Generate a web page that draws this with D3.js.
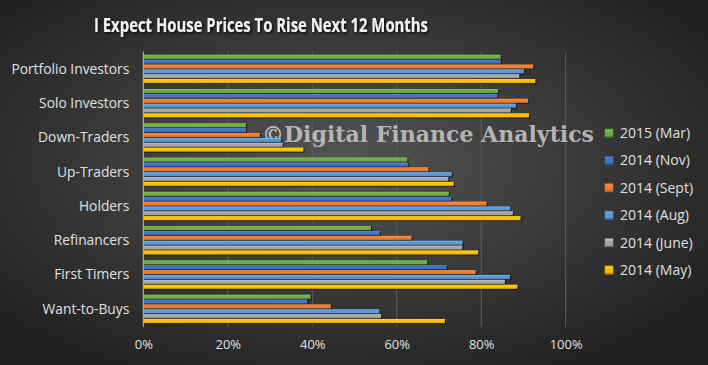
<!DOCTYPE html>
<html>
<head>
<meta charset="utf-8">
<script src="https://cdn.jsdelivr.net/npm/d3@7"></script>
<style>
  html, body { margin: 0; padding: 0; background: #2b2b2b; }
  svg { display: block; }
</style>
</head>
<body>
<div id="chart"></div>
<script>
  // Categories, top to bottom
  let categories = [
    'Portfolio Investors', 'Solo Investors', 'Down-Traders', 'Up-Traders',
    'Holders', 'Refinancers', 'First Timers', 'Want-to-Buys'
  ]
  // Series, in the order they stack inside each group (top to bottom)
  let seriesNames = ['2015 (Mar)', '2014 (Nov)', '2014 (Sept)', '2014 (Aug)', '2014 (June)', '2014 (May)']
  let seriesColors = ['#70ad47', '#4472c4', '#ed7d31', '#5b9bd5', '#a5a5a5', '#ffc000']
  // Values per series, one per category (percent)
  let mar15  = [84.6, 84.0, 24.3, 62.5, 72.3, 53.9, 67.2, 39.6]
  let nov14  = [84.6, 83.8, 24.3, 62.7, 72.9, 56.0, 71.8, 38.8]
  let sept14 = [92.3, 91.1, 27.6, 67.5, 81.3, 63.5, 78.7, 44.4]
  let aug14  = [90.1, 88.2, 32.6, 73.0, 86.9, 75.6, 86.8, 55.9]
  let june14 = [89.0, 87.0, 33.0, 72.2, 87.5, 75.5, 85.6, 56.3]
  let may14  = [92.8, 91.3, 37.9, 73.5, 89.3, 79.3, 88.6, 71.4]
  let seriesValues = [mar15, nov14, sept14, aug14, june14, may14]
  let xTicks = [0, 20, 40, 60, 80, 100]

  const W = 708, H = 365
  const svg = d3.select('#chart').append('svg')
    .attr('width', W)
    .attr('height', H)

  const defs = svg.append('defs')
  // Background radial gradient
  let bg = defs.append('radialGradient')
    .attr('id', 'bg')
    .attr('cx', '48%').attr('cy', '45%').attr('r', '65%')
  bg.append('stop').attr('offset', '0%').attr('stop-color', '#545454')
  bg.append('stop').attr('offset', '100%').attr('stop-color', '#202020')
  svg.append('rect').attr('width', W).attr('height', H).attr('fill', 'url(#bg)')

  // Bar gradients (top highlight, bottom shade) for the 3D look
  seriesColors.forEach((c, i) => {
    let g = defs.append('linearGradient')
      .attr('id', 'bar' + i)
      .attr('x1', 0).attr('y1', 0).attr('x2', 0).attr('y2', 1)
    g.append('stop').attr('offset', '0%').attr('stop-color', d3.color(c).brighter(0.5))
    g.append('stop').attr('offset', '35%').attr('stop-color', c)
    g.append('stop').attr('offset', '75%').attr('stop-color', c)
    g.append('stop').attr('offset', '100%').attr('stop-color', d3.color(c).darker(1.2))
  })
  let shadow = defs.append('filter').attr('id', 'tshadow')
    .attr('x', '-10%').attr('y', '-30%').attr('width', '120%').attr('height', '160%')
  shadow.append('feDropShadow')
    .attr('dx', 1.5).attr('dy', 1.5).attr('stdDeviation', 1.2)
    .attr('flood-color', '#000').attr('flood-opacity', 0.8)

  // Scales
  const x = d3.scaleLinear().domain([0, 100]).range([143.3, 565.7])
  const y = d3.scaleBand().domain(categories).range([52.2, 326.4])
    .paddingInner(0.15).paddingOuter(0.075)
  const ySub = d3.scaleBand().domain(seriesNames).range([0, y.bandwidth()])

  // Title
  svg.append('text')
    .attr('x', 261).attr('y', 31.5)
    .attr('text-anchor', 'middle')
    .attr('fill', '#f2f2f2')
    .attr('filter', 'url(#tshadow)')
    .style('font-family', 'Open Sans, sans-serif')
    .style('font-weight', 'bold')
    .style('font-size', '20px')
    .attr('textLength', 334)
    .attr('lengthAdjust', 'spacingAndGlyphs')
    .text('I Expect House Prices To Rise Next 12 Months')

  // Gridlines
  svg.append('g')
    .selectAll('line')
    .data(xTicks.slice(1))
    .join('line')
    .attr('x1', d => x(d)).attr('x2', d => x(d))
    .attr('y1', 51.5).attr('y2', 327)
    .attr('stroke', '#5e5e5e')
    .attr('stroke-width', 1)

  // Watermark (behind the bars)
  svg.append('text')
    .attr('x', 262).attr('y', 141.5)
    .attr('fill', '#c4c4c4')
    .attr('fill-opacity', 0.9)
    .style('font-family', 'DejaVu Serif, serif')
    .style('font-weight', 'bold')
    .style('font-size', '23px')
    .attr('textLength', 332)
    .attr('lengthAdjust', 'spacingAndGlyphs')
    .text('©Digital Finance Analytics')

  // Bars
  const groups = svg.append('g')
    .selectAll('g')
    .data(seriesNames)
    .join('g')

  groups.each(function(name, si) {
    let rows = categories.map((cat, ci) => ({ cat: cat, value: seriesValues[si][ci] }))
    let h = ySub.bandwidth() - 0.6
    let g = d3.select(this)
    // dark backing for shadow edge
    g.selectAll('rect.back')
      .data(rows)
      .join('rect')
      .attr('class', 'back')
      .attr('x', x(0))
      .attr('y', d => y(d.cat) + ySub(name) + 0.8)
      .attr('width', d => x(d.value) - x(0) + 1.2)
      .attr('height', h)
      .attr('fill', '#161616')
      .attr('fill-opacity', 0.85)
    g.selectAll('rect.bar')
      .data(rows)
      .join('rect')
      .attr('class', 'bar')
      .attr('x', x(0))
      .attr('y', d => y(d.cat) + ySub(name))
      .attr('width', d => x(d.value) - x(0))
      .attr('height', h)
      .attr('fill', 'url(#bar' + si + ')')
  })

  // Vertical axis line at 0
  svg.append('line')
    .attr('x1', x(0)).attr('x2', x(0))
    .attr('y1', 51.5).attr('y2', 327)
    .attr('stroke', '#bdbdbd')
    .attr('stroke-width', 1)

  // Category labels
  const yAxis = d3.axisLeft(y).tickSize(0).tickPadding(14)
  const yAx = svg.append('g')
    .attr('transform', `translate(${x(0)},0)`)
    .call(yAxis)
  yAx.select('.domain').remove()
  yAx.selectAll('text')
    .attr('fill', '#e0e0e0')
    .style('font-family', 'Open Sans, sans-serif')
    .style('font-size', '13.8px')

  // Value axis labels
  const xAxis = d3.axisBottom(x).tickValues(xTicks).tickSize(0).tickPadding(0)
    .tickFormat(d => d + '%')
  const xAx = svg.append('g')
    .attr('transform', 'translate(0,340)')
    .call(xAxis)
  xAx.select('.domain').remove()
  xAx.selectAll('text')
    .attr('fill', '#e0e0e0')
    .style('font-family', 'Open Sans, sans-serif')
    .style('font-size', '13px')

  // Legend
  const legend = svg.append('g')
    .selectAll('g')
    .data(seriesNames)
    .join('g')
    .attr('transform', (d, i) => `translate(605,${129 + i * 27.4})`)
  legend.append('rect')
    .attr('width', 8).attr('height', 8)
    .attr('fill', (d, i) => 'url(#bar' + i + ')')
    .attr('stroke', (d, i) => d3.color(seriesColors[i]).darker(0.6))
    .attr('stroke-width', 0.8)
  legend.append('text')
    .attr('x', 15).attr('y', 9)
    .attr('fill', '#e0e0e0')
    .style('font-family', 'Open Sans, sans-serif')
    .style('font-size', '14px')
    .text(d => d)
</script>
</body>
</html>
